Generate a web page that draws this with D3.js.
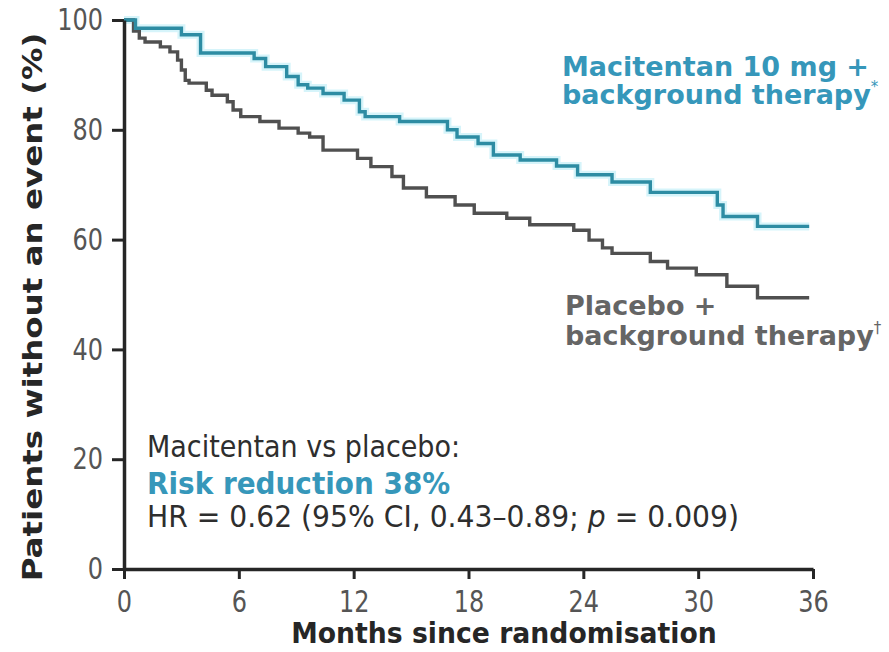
<!DOCTYPE html>
<html>
<head>
<meta charset="utf-8">
<script src="https://cdn.jsdelivr.net/npm/d3@7"></script>
<style>
  html, body { margin: 0; padding: 0; background: #fff; }
  svg { display: block; font-family: "DejaVu Sans", Verdana, sans-serif; }
</style>
</head>
<body>
<svg id="chart" width="889" height="652"></svg>
<script>
// Data (months, % without event) — Kaplan-Meier steps
const macitentanMonths = [0, 0.6, 3.0, 4.0, 6.8, 7.4, 8.5, 9.1, 9.6, 10.4, 11.5, 12.3, 12.6, 14.4, 16.9, 17.4, 18.5, 19.3, 20.7, 22.6, 23.7, 25.5, 27.5, 31.0, 31.3, 33.1, 35.8];
const macitentanValues = [100, 98.5, 97.3, 94.0, 93.0, 91.5, 89.7, 88.2, 87.6, 86.6, 85.4, 83.3, 82.4, 81.5, 80.0, 78.7, 77.5, 75.4, 74.5, 73.4, 71.8, 70.5, 68.6, 66.3, 64.2, 62.4, 62.4];
const placeboMonths = [0, 0.5, 0.8, 1.1, 1.9, 2.4, 2.8, 3.0, 3.2, 3.4, 4.3, 4.6, 5.4, 5.7, 6.1, 7.1, 8.1, 9.1, 9.7, 10.4, 12.2, 12.9, 14.0, 14.6, 15.8, 17.3, 18.3, 20.0, 21.2, 23.5, 24.3, 25.0, 25.5, 27.5, 28.4, 29.9, 31.5, 33.1, 35.8];
const placeboValues = [100, 98.0, 96.7, 96.0, 95.1, 94.2, 92.7, 90.9, 89.0, 88.5, 87.2, 86.3, 85.1, 83.6, 82.4, 81.5, 80.3, 79.4, 78.7, 76.3, 74.8, 73.3, 71.5, 69.4, 67.8, 66.3, 64.8, 63.9, 62.7, 61.7, 59.9, 58.5, 57.5, 56.0, 54.8, 53.6, 51.5, 49.4, 49.4];
const xTicks = [0, 6, 12, 18, 24, 30, 36];
const yTicks = [0, 20, 40, 60, 80, 100];

const TEAL = "#2d8ca3";
const TEAL_TEXT = "#3697ba";
const GREY = "#505050";
const GREY_TEXT = "#656565";
const INK = "#262626";

const svg = d3.select("#chart");
const x = d3.scaleLinear().domain([0, 36]).range([124, 813]);
const y = d3.scaleLinear().domain([0, 100]).range([569, 20]);

const toPts = (ms, vs) => ms.map((m, i) => [m, vs[i]]);
const line = d3.line().x(d => x(d[0])).y(d => y(d[1])).curve(d3.curveStepAfter);

// Curves (light halo under teal)
svg.append("path").attr("d", line(toPts(macitentanMonths, macitentanValues)))
  .attr("fill", "none").attr("stroke", "#b5ebf5").attr("stroke-width", 8).attr("stroke-opacity", 0.55);
svg.append("path").attr("d", line(toPts(placeboMonths, placeboValues)))
  .attr("fill", "none").attr("stroke", GREY).attr("stroke-width", 3.4);
svg.append("path").attr("d", line(toPts(macitentanMonths, macitentanValues)))
  .attr("fill", "none").attr("stroke", TEAL).attr("stroke-width", 3.4);

// Axes
const xAxis = svg.append("g").attr("transform", "translate(0,569)")
  .call(d3.axisBottom(x).tickValues(xTicks).tickSize(10).tickSizeOuter(0));
const yAxis = svg.append("g").attr("transform", "translate(124,0)")
  .call(d3.axisLeft(y).tickValues(yTicks).tickSize(12).tickSizeOuter(0));
[xAxis, yAxis].forEach(g => {
  g.select(".domain").attr("stroke", INK).attr("stroke-width", 3.5);
  g.selectAll(".tick line").attr("stroke", INK).attr("stroke-width", 3);
  g.selectAll(".tick text").attr("fill", "#555").attr("font-size", 30)
    .attr("font-family", "'DejaVu Sans', Verdana, sans-serif");
});
yAxis.selectAll(".tick text").attr("x", 0).attr("transform", "translate(-21,0) scale(0.8,1)");
xAxis.selectAll(".tick text").attr("y", 0).attr("dy", null).attr("transform", "translate(0,43) scale(0.8,1)");

// Axis titles
svg.append("g").attr("transform", "translate(504,643) scale(0.92,1)")
  .append("text").attr("text-anchor", "middle")
  .attr("font-size", 29).attr("font-weight", "bold").attr("fill", INK)
  .text("Months since randomisation");
svg.append("g").attr("transform", "translate(42,307) rotate(-90) scale(1,0.84)")
  .append("text").attr("text-anchor", "middle")
  .attr("font-size", 32.5).attr("font-weight", "bold").attr("fill", INK)
  .text("Patients without an event (%)");

// Series labels
const lab1 = svg.append("text").attr("font-size", 27).attr("font-weight", "bold").attr("fill", TEAL_TEXT);
lab1.append("tspan").attr("x", 562).attr("y", 76).text("Macitentan 10 mg +");
lab1.append("tspan").attr("x", 562).attr("y", 104).text("background therapy");
lab1.append("tspan").attr("dy", -12).attr("font-size", 15).attr("font-weight", "normal").text("*");

const lab2 = svg.append("text").attr("font-size", 27).attr("font-weight", "bold").attr("fill", GREY_TEXT);
lab2.append("tspan").attr("x", 565).attr("y", 315).text("Placebo +");
lab2.append("tspan").attr("x", 565).attr("y", 345).text("background therapy");
lab2.append("tspan").attr("dy", -12).attr("font-size", 15).attr("font-weight", "normal").text("†");

// Statistics annotation
const squeezed = (x0, y0, sx) => svg.append("g").attr("transform", `translate(${x0},${y0}) scale(${sx},1)`)
  .append("text").attr("x", 0).attr("y", 0).attr("font-size", 30);
squeezed(147, 457, 0.9).attr("fill", "#2e2e2e").text("Macitentan vs placebo:");
squeezed(147, 494, 0.93).attr("font-weight", "bold").attr("fill", TEAL_TEXT).text("Risk reduction 38%");
const hr = squeezed(147, 527, 0.94).attr("fill", "#2e2e2e");
hr.append("tspan").text("HR = 0.62 (95% CI, 0.43–0.89; ");
hr.append("tspan").attr("font-style", "italic").text("p");
hr.append("tspan").text(" = 0.009)");
</script>
</body>
</html>
